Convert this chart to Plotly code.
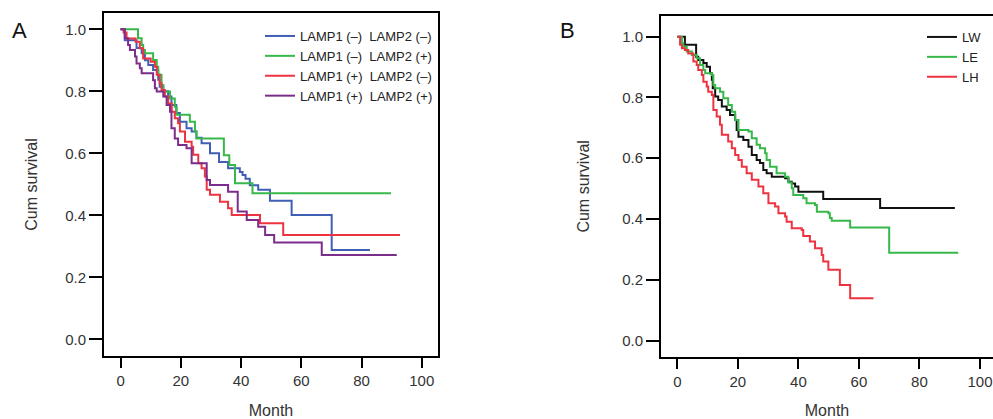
import plotly.graph_objects as go

# ---------------- Panel A data (Kaplan-Meier steps) ----------------
a_blue_t = [0, 1.4, 5.3, 7.0, 8.1, 9.2, 10.8, 12.5, 13.0, 14.2, 15.8, 16.9, 18.5, 19.7, 21.9,
            23.6, 25.2, 26.9, 29.7, 32.7, 35.7, 39.6, 40.5, 41.5, 42.9, 45.7, 49.6, 56.8, 70.1, 82.8]
a_blue_s = [1.0, 0.965, 0.94, 0.923, 0.90, 0.885, 0.869, 0.837, 0.815, 0.80, 0.783, 0.756, 0.73, 0.702, 0.681,
            0.670, 0.65, 0.632, 0.60, 0.572, 0.552, 0.54, 0.53, 0.518, 0.497, 0.482, 0.447, 0.401, 0.288, 0.288]

a_green_t = [0, 5.8, 7.0, 7.5, 8.1, 10.8, 12.0, 12.5, 13.6, 14.2, 16.4, 18.0, 18.6, 23.0, 24.7,
             25.2, 34.3, 36.1, 38.0, 43.8, 89.8]
a_green_s = [1.0, 0.971, 0.949, 0.933, 0.923, 0.901, 0.879, 0.853, 0.820, 0.799, 0.777, 0.750, 0.724, 0.702, 0.670,
             0.648, 0.594, 0.562, 0.503, 0.471, 0.471]

a_red_t = [0, 1.0, 2.0, 5.0, 6.4, 7.5, 10.0, 11.4, 12.0, 13.0, 13.6, 14.7, 15.8, 17.0, 18.0, 19.1,
           19.7, 21.4, 23.6, 24.1, 25.8, 26.9, 28.0, 28.6, 29.7, 33.0, 35.7, 36.9, 46.3, 54.0, 92.8]
a_red_s = [1.0, 0.99, 0.97, 0.96, 0.939, 0.906, 0.895, 0.879, 0.853, 0.826, 0.804, 0.783, 0.761, 0.734, 0.713, 0.697,
           0.670, 0.637, 0.621, 0.595, 0.568, 0.552, 0.525, 0.482, 0.466, 0.444, 0.423, 0.401, 0.374, 0.336, 0.336]

a_purple_t = [0, 1.4, 2.5, 3.1, 4.8, 5.3, 6.4, 7.0, 10.8, 11.4, 12.0, 14.2, 15.3, 16.4, 16.9, 18.0,
              19.1, 21.9, 23.6, 28.6, 29.7, 35.7, 38.9, 41.9, 45.7, 48.0, 51.0, 66.8, 91.7]
a_purple_s = [1.0, 0.971, 0.949, 0.933, 0.912, 0.89, 0.874, 0.858, 0.836, 0.810, 0.799, 0.783, 0.756, 0.734, 0.681, 0.648,
              0.627, 0.616, 0.568, 0.514, 0.498, 0.476, 0.412, 0.385, 0.363, 0.336, 0.312, 0.272, 0.272]

a_names = ["LAMP1 (\u2013)\u00a0\u00a0LAMP2 (\u2013)", "LAMP1 (\u2013)\u00a0\u00a0LAMP2 (+)",
           "LAMP1 (+)\u00a0\u00a0LAMP2 (\u2013)", "LAMP1 (+)\u00a0\u00a0LAMP2 (+)"]

# ---------------- Panel B data ----------------
b_lw_t = [0, 2.5, 6.2, 6.9, 8.6, 9.7, 10.8, 11.4, 11.7, 12.5, 13.5, 14.7, 16.3, 17.4, 19.1, 19.6, 20.2,
          21.8, 23.5, 24.6, 26.2, 27.3, 28.4, 29.5, 31.2, 35.6, 36.7, 37.8, 38.9, 40.0, 48.2, 67.0, 91.7]
b_lw_s = [1.0, 0.973, 0.934, 0.923, 0.913, 0.901, 0.880, 0.858, 0.830, 0.803, 0.792, 0.770, 0.759, 0.742, 0.726, 0.693, 0.671,
          0.660, 0.638, 0.611, 0.594, 0.584, 0.561, 0.551, 0.539, 0.534, 0.523, 0.517, 0.507, 0.490, 0.466, 0.436, 0.436]

b_le_t = [0, 1.5, 2.0, 3.1, 4.8, 6.4, 7.5, 8.6, 9.2, 11.4, 11.9, 12.5, 14.1, 15.2, 16.8, 18.0, 19.1, 20.2,
          23.5, 24.6, 26.2, 27.3, 29.0, 29.5, 30.6, 32.8, 35.6, 36.7, 37.8, 38.3, 41.6, 42.7, 45.5, 46.1,
          49.9, 50.4, 51.0, 57.1, 70.0, 92.8]
b_le_s = [1.0, 0.978, 0.967, 0.951, 0.94, 0.929, 0.907, 0.89, 0.88, 0.874, 0.841, 0.830, 0.819, 0.797, 0.775, 0.753, 0.726, 0.693,
          0.688, 0.666, 0.644, 0.633, 0.616, 0.594, 0.572, 0.551, 0.539, 0.52, 0.501, 0.479, 0.468, 0.452, 0.446, 0.424,
          0.419, 0.403, 0.394, 0.372, 0.289, 0.289]

b_lh_t = [0, 0.9, 1.5, 2.5, 3.6, 5.3, 6.4, 6.9, 8.1, 8.6, 9.7, 10.2, 11.4, 11.9, 13.0, 14.1, 14.7, 16.8,
          18.0, 19.1, 20.2, 21.3, 22.9, 24.6, 26.8, 28.4, 30.1, 32.3, 33.4, 35.6, 36.1, 37.8, 41.1, 41.6,
          43.8, 45.5, 47.7, 48.2, 49.9, 53.7, 57.1, 64.8]
b_lh_s = [1.0, 0.973, 0.962, 0.956, 0.945, 0.918, 0.907, 0.890, 0.874, 0.852, 0.836, 0.819, 0.808, 0.759, 0.737, 0.710, 0.677, 0.655,
          0.633, 0.611, 0.594, 0.572, 0.551, 0.529, 0.507, 0.485, 0.452, 0.441, 0.419, 0.408, 0.391, 0.370, 0.364, 0.344,
          0.326, 0.304, 0.282, 0.260, 0.233, 0.183, 0.139, 0.139]

b_names = ["LW", "LE", "LH"]

x_ticks = [0, 20, 40, 60, 80, 100]
y_ticks = [0.0, 0.2, 0.4, 0.6, 0.8, 1.0]
y_ticklabels = ["0.0", "0.2", "0.4", "0.6", "0.8", "1.0"]

FONT = "Liberation Sans, Arial, Helvetica, sans-serif"
W, H = 993, 419

fig = go.Figure()

a_series = [(a_blue_t, a_blue_s, "#3f5fb5"), (a_green_t, a_green_s, "#37b84a"),
            (a_red_t, a_red_s, "#ee3340"), (a_purple_t, a_purple_s, "#7b2d8b")]
for (t, s, c), n in zip(a_series, a_names):
    fig.add_trace(go.Scatter(x=t, y=s, mode="lines", line=dict(color=c, width=2, shape="hv"),
                             name=n, xaxis="x", yaxis="y", legend="legend"))

b_series = [(b_lw_t, b_lw_s, "#111111"), (b_le_t, b_le_s, "#37b84a"), (b_lh_t, b_lh_s, "#ee3340")]
for (t, s, c), n in zip(b_series, b_names):
    fig.add_trace(go.Scatter(x=t, y=s, mode="lines", line=dict(color=c, width=2, shape="hv"),
                             name=n, xaxis="x2", yaxis="y2", legend="legend2"))

tickfont = dict(family=FONT, size=15, color="#333333")
titlefont = dict(family=FONT, size=16, color="#333333")

def xax(domain, rng, mirror):
    return dict(domain=domain, range=rng, tickvals=x_ticks, ticks="outside", ticklen=10, tickwidth=2,
                tickcolor="black", showline=True, linecolor="black", linewidth=2, mirror=mirror,
                showgrid=False, zeroline=False, tickfont=tickfont,
                title=dict(text="Month", font=titlefont, standoff=19), automargin=False)

def yax(domain, rng, anchor, mirror, standoff):
    return dict(domain=domain, range=rng, anchor=anchor, tickvals=y_ticks, ticktext=y_ticklabels,
                ticks="outside", ticklen=13, tickwidth=2, tickcolor="black", showline=True,
                linecolor="black", linewidth=2, mirror=mirror, showgrid=False, zeroline=False,
                tickfont=tickfont, title=dict(text="Cum survival", font=titlefont, standoff=standoff),
                automargin=False)

xa = xax([104 / W, 438 / W], [-5.5, 105.4], True)
xa["anchor"] = "y"
xb = xax([661 / W, 1.0], [-5.4, 104.3], True)
xb["anchor"] = "y2"
ya = yax([1 - 356 / H, 1 - 13 / H], [-0.054, 1.0526], "x", True, 24)
yb = yax([1 - 356.7 / H, 1 - 16 / H], [-0.053, 1.068], "x2", False, 29)

fig.update_layout(
    width=W, height=H,
    margin=dict(l=0, r=0, t=0, b=0),
    paper_bgcolor="white", plot_bgcolor="white",
    font=dict(family=FONT, color="#333333"),
    xaxis=xa, yaxis=ya, xaxis2=xb, yaxis2=yb,
    legend=dict(x=260 / W, y=1 - 21 / H, xanchor="left", yanchor="top", bgcolor="rgba(0,0,0,0)",
                font=dict(family=FONT, size=13, color="#222222"), itemwidth=30,
                tracegroupgap=0),
    legend2=dict(x=922 / W, y=1 - 22 / H, xanchor="left", yanchor="top", bgcolor="rgba(0,0,0,0)",
                 font=dict(family=FONT, size=13, color="#222222"), itemwidth=30,
                 tracegroupgap=0),
    showlegend=True,
    annotations=[
        dict(text="A", x=19 / W, y=1 - 30 / H, xref="paper", yref="paper", showarrow=False,
             xanchor="center", yanchor="middle", font=dict(family=FONT, size=22, color="#111111")),
        dict(text="B", x=567 / W, y=1 - 30 / H, xref="paper", yref="paper", showarrow=False,
             xanchor="center", yanchor="middle", font=dict(family=FONT, size=22, color="#111111")),
    ],
)

fig.write_html("out.html", config={"displayModeBar": False},
               post_script="document.body.style.margin='0';document.body.style.overflow='hidden';")
